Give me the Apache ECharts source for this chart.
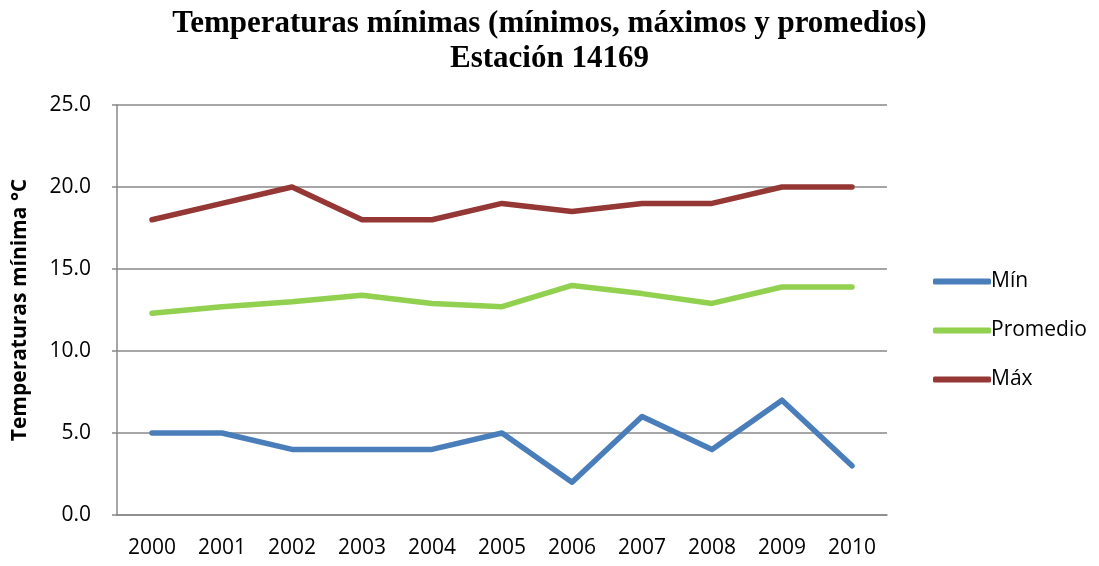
<!DOCTYPE html>
<html>
<head>
<meta charset="utf-8">
<script src="https://cdn.jsdelivr.net/npm/echarts@6/dist/echarts.min.js"></script>
<style>
html, body { margin: 0; padding: 0; background: #fff; }
#chart { width: 1099px; height: 566px; }
</style>
</head>
<body>
<div id="chart"></div>
<script>
// datos de la estación 14169
var years = ['2000', '2001', '2002', '2003', '2004', '2005', '2006', '2007', '2008', '2009', '2010'];
var minVals = [5, 5, 4, 4, 4, 5, 2, 6, 4, 7, 3];
var promVals = [12.3, 12.7, 13.0, 13.4, 12.9, 12.7, 14.0, 13.5, 12.9, 13.9, 13.9];
var maxVals = [18, 19, 20, 18, 18, 19, 18.5, 19, 19, 20, 20];

(function(){
	var lineStyle = function(color){
		return { type: 'line', symbol: 'none', lineStyle: { width: 5.5, color: color, cap: 'round', join: 'round' }, itemStyle: { color: color } };
	};
	var sMin = lineStyle('#4a7ebb'); sMin.name = 'Mín'; sMin.data = minVals;
	var sProm = lineStyle('#92d050'); sProm.name = 'Promedio'; sProm.data = promVals;
	var sMax = lineStyle('#953735'); sMax.name = 'Máx'; sMax.data = maxVals;

	var option = {
		animation: false,
		title: {
			text: 'Temperaturas mínimas (mínimos, máximos y promedios)\nEstación 14169',
			left: 'center',
			top: 1,
			textStyle: {
				fontFamily: 'Liberation Serif',
				fontWeight: 'bold',
				fontSize: 31,
				lineHeight: 35,
				color: '#000'
			}
		},
		legend: {
			orient: 'vertical',
			left: 928,
			top: 266,
			itemWidth: 58,
			itemHeight: 6,
			itemGap: 28,
			icon: 'roundRect',
			textStyle: { fontFamily: 'Open Sans', fontSize: 21, color: '#000', padding: [0, 0, 0, -5] },
			data: ['Mín', 'Promedio', 'Máx']
		},
		grid: { left: 117, right: 212, top: 105, bottom: 51 },
		xAxis: {
			type: 'category',
			data: years,
			boundaryGap: true,
			axisLine: { lineStyle: { color: '#888', width: 1.5 } },
			axisTick: { show: false },
			axisLabel: { fontFamily: 'Open Sans', fontSize: 21, color: '#000', margin: 23 }
		},
		yAxis: {
			type: 'value',
			min: 0,
			max: 25,
			interval: 5,
			name: 'Temperaturas mínima °C',
			nameLocation: 'middle',
			nameGap: 86,
			nameRotate: 90,
			nameTextStyle: { fontFamily: 'Open Sans', fontWeight: 'bold', fontSize: 21, color: '#000' },
			axisLine: { show: true, lineStyle: { color: '#888', width: 1.5 } },
			axisTick: { show: true, length: 5, lineStyle: { color: '#888', width: 1.5 } },
			splitLine: { lineStyle: { color: '#888', width: 1.5 } },
			axisLabel: {
				fontFamily: 'Open Sans', fontSize: 21, color: '#000', margin: 26,
				formatter: function(v){ return v.toFixed(1); }
			}
		},
		series: [sMin, sProm, sMax]
	};
	var myChart = echarts.init(document.getElementById('chart'));
	myChart.setOption(option);
})();
</script>
</body>
</html>
